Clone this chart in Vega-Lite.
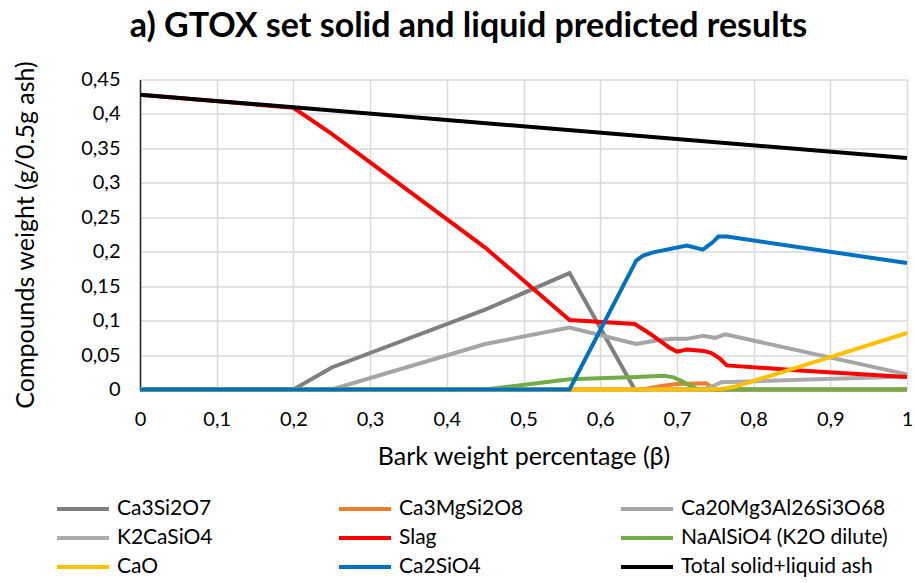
{
"$schema": "https://vega.github.io/schema/vega-lite/v6.json",
"width": 767, "height": 310,
"autosize": {"type": "none"},
"padding": {"left": 140, "top": 79.5, "right": 8, "bottom": 193.5},
"background": "white",
"title": {"text": "a) GTOX set solid and liquid predicted results", "font": "Lato", "fontSize": 34, "fontWeight": "bold", "color": "black", "anchor": "middle", "dx": -55, "offset": 16},
"config": {"view": {"stroke": null}, "font": "Lato"},
"data": {"values": [
{"s":"Ca3Si2O7","b":0,"w":0},{"s":"Ca3Si2O7","b":0.2,"w":0},{"s":"Ca3Si2O7","b":0.25,"w":0.032},{"s":"Ca3Si2O7","b":0.45,"w":0.116},{"s":"Ca3Si2O7","b":0.56,"w":0.169},{"s":"Ca3Si2O7","b":0.645,"w":0},{"s":"Ca3Si2O7","b":1,"w":0},
{"s":"Ca3MgSi2O8","b":0,"w":0},{"s":"Ca3MgSi2O8","b":0.655,"w":0},{"s":"Ca3MgSi2O8","b":0.68,"w":0.005},{"s":"Ca3MgSi2O8","b":0.7,"w":0.008},{"s":"Ca3MgSi2O8","b":0.738,"w":0.009},{"s":"Ca3MgSi2O8","b":0.75,"w":0},{"s":"Ca3MgSi2O8","b":1,"w":0},
{"s":"Ca20Mg3Al26Si3O68","b":0,"w":0},{"s":"Ca20Mg3Al26Si3O68","b":0.25,"w":0},{"s":"Ca20Mg3Al26Si3O68","b":0.45,"w":0.066},{"s":"Ca20Mg3Al26Si3O68","b":0.56,"w":0.090},{"s":"Ca20Mg3Al26Si3O68","b":0.647,"w":0.066},{"s":"Ca20Mg3Al26Si3O68","b":0.673,"w":0.071},{"s":"Ca20Mg3Al26Si3O68","b":0.695,"w":0.0735},{"s":"Ca20Mg3Al26Si3O68","b":0.713,"w":0.0735},{"s":"Ca20Mg3Al26Si3O68","b":0.734,"w":0.078},{"s":"Ca20Mg3Al26Si3O68","b":0.75,"w":0.075},{"s":"Ca20Mg3Al26Si3O68","b":0.763,"w":0.080},{"s":"Ca20Mg3Al26Si3O68","b":1,"w":0.022},
{"s":"K2CaSiO4","b":0,"w":0},{"s":"K2CaSiO4","b":0.735,"w":0},{"s":"K2CaSiO4","b":0.745,"w":0.004},{"s":"K2CaSiO4","b":0.758,"w":0.0105},{"s":"K2CaSiO4","b":0.904,"w":0.0155},{"s":"K2CaSiO4","b":1,"w":0.019},
{"s":"Slag","b":0,"w":0.428},{"s":"Slag","b":0.2,"w":0.409},{"s":"Slag","b":0.25,"w":0.371},{"s":"Slag","b":0.45,"w":0.206},{"s":"Slag","b":0.56,"w":0.101},{"s":"Slag","b":0.645,"w":0.095},{"s":"Slag","b":0.665,"w":0.081},{"s":"Slag","b":0.69,"w":0.061},{"s":"Slag","b":0.70,"w":0.055},{"s":"Slag","b":0.713,"w":0.058},{"s":"Slag","b":0.735,"w":0.056},{"s":"Slag","b":0.745,"w":0.053},{"s":"Slag","b":0.756,"w":0.045},{"s":"Slag","b":0.765,"w":0.035},{"s":"Slag","b":0.86,"w":0.0276},{"s":"Slag","b":1,"w":0.018},
{"s":"NaAlSiO4 (K2O dilute)","b":0,"w":0},{"s":"NaAlSiO4 (K2O dilute)","b":0.45,"w":0},{"s":"NaAlSiO4 (K2O dilute)","b":0.56,"w":0.015},{"s":"NaAlSiO4 (K2O dilute)","b":0.647,"w":0.018},{"s":"NaAlSiO4 (K2O dilute)","b":0.682,"w":0.020},{"s":"NaAlSiO4 (K2O dilute)","b":0.695,"w":0.018},{"s":"NaAlSiO4 (K2O dilute)","b":0.705,"w":0.013},{"s":"NaAlSiO4 (K2O dilute)","b":0.713,"w":0.008},{"s":"NaAlSiO4 (K2O dilute)","b":0.728,"w":0},{"s":"NaAlSiO4 (K2O dilute)","b":1,"w":0},
{"s":"CaO","b":0,"w":0},{"s":"CaO","b":0.74,"w":0},{"s":"CaO","b":0.76,"w":0.001},{"s":"CaO","b":0.775,"w":0.004},{"s":"CaO","b":0.79,"w":0.009},{"s":"CaO","b":0.9,"w":0.047},{"s":"CaO","b":1,"w":0.082},
{"s":"Ca2SiO4","b":0,"w":0},{"s":"Ca2SiO4","b":0.56,"w":0},{"s":"Ca2SiO4","b":0.647,"w":0.187},{"s":"Ca2SiO4","b":0.656,"w":0.1945},{"s":"Ca2SiO4","b":0.669,"w":0.199},{"s":"Ca2SiO4","b":0.713,"w":0.209},{"s":"Ca2SiO4","b":0.734,"w":0.203},{"s":"Ca2SiO4","b":0.747,"w":0.214},{"s":"Ca2SiO4","b":0.754,"w":0.222},{"s":"Ca2SiO4","b":0.765,"w":0.222},{"s":"Ca2SiO4","b":1,"w":0.1835},
{"s":"Total solid+liquid ash","b":0,"w":0.428},{"s":"Total solid+liquid ash","b":0.2,"w":0.4096},{"s":"Total solid+liquid ash","b":1,"w":0.336}
]},
"mark": {"type": "line", "strokeWidth": 4, "interpolate": "linear"},
"encoding": {
  "x": {"field": "b", "type": "quantitative", "scale": {"domain": [0, 1], "nice": false, "zero": false},
    "axis": {"title": "Bark weight percentage (β)", "values": [0,0.1,0.2,0.3,0.4,0.5,0.6,0.7,0.8,0.9,1],
      "labelExpr": "replace(format(datum.value, '.1~f'), '.', ',')", "labelFontSize": 20, "labelColor": "black", "labelPadding": 20,
      "ticks": false, "domainColor": "#D9D9D9", "domainWidth": 1.5, "gridColor": "#D9D9D9", "gridWidth": 1.5,
      "titleFontSize": 25, "titleFontWeight": "normal", "titleColor": "black", "titlePadding": 15, "labelFlush": false}},
  "y": {"field": "w", "type": "quantitative", "scale": {"domain": [0, 0.45], "nice": false},
    "axis": {"title": "Compounds weight (g/0.5g ash)", "values": [0,0.05,0.1,0.15,0.2,0.25,0.3,0.35,0.4,0.45],
      "labelExpr": "replace(format(datum.value, '.2~f'), '.', ',')", "labelFontSize": 20, "labelColor": "black", "labelPadding": 20,
      "ticks": false, "domainColor": "#262626", "domainWidth": 1.5, "gridColor": "#D9D9D9", "gridWidth": 1.5,
      "titleFontSize": 25, "titleFontWeight": "normal", "titleColor": "black", "titlePadding": 42}},
  "color": {"field": "s", "type": "nominal",
    "scale": {"domain": ["Ca3Si2O7","Ca3MgSi2O8","Ca20Mg3Al26Si3O68","K2CaSiO4","Slag","NaAlSiO4 (K2O dilute)","CaO","Ca2SiO4","Total solid+liquid ash"],
      "range": ["#7F7F7F","#ED7D31","#A5A5A5","#ABABAB","#FF0000","#70AD47","#FFC000","#0070C0","#000000"]},
    "legend": {"title": null, "orient": "none", "legendX": -85, "legendY": 419, "direction": "horizontal", "columns": 3,
      "symbolType": "stroke", "symbolSize": 2704, "symbolStrokeWidth": 4, "labelFontSize": 21, "labelColor": "black",
      "labelOffset": 6, "clipHeight": 21, "rowPadding": 7, "columnPadding": 13, "gridAlign": "all", "padding": 0, "labelLimit": 400}}
}
}
